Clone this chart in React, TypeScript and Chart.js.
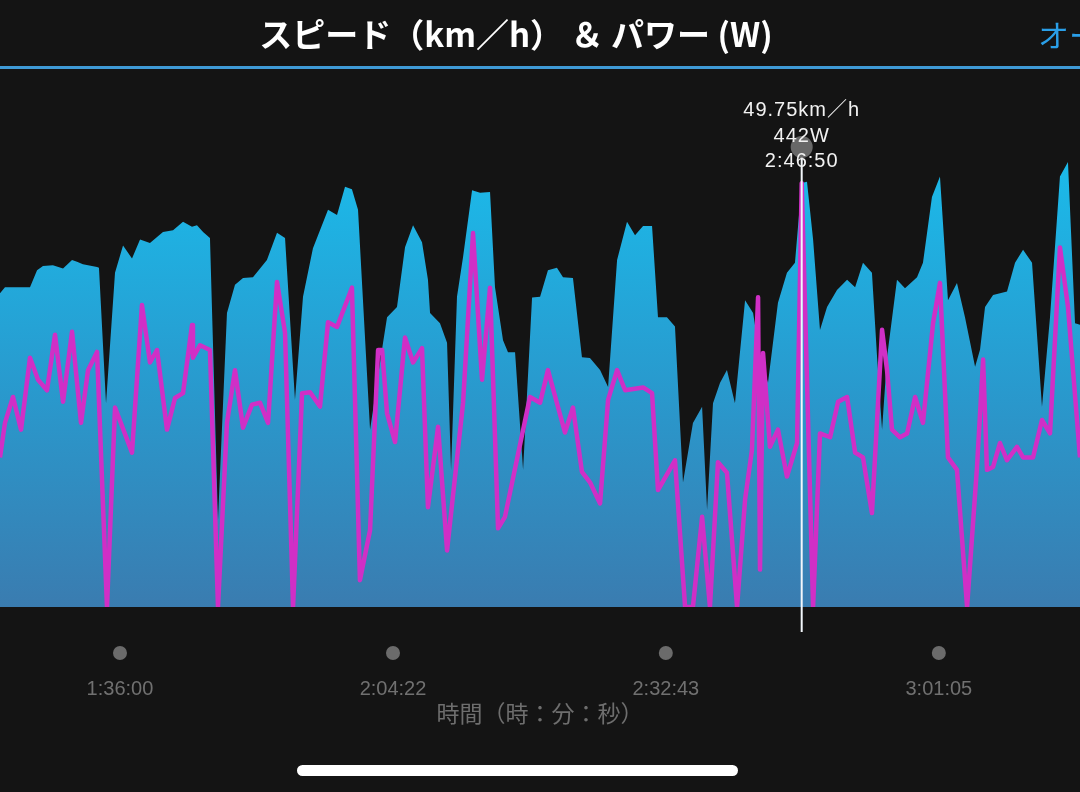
import React, { useEffect, useRef } from 'react';
import { Chart, registerables } from 'chart.js';

Chart.register(...registerables);

// ---------- data ----------
const titleText = 'スピード（km／h） ＆ パワー (W)';
const headerAction = 'オー';
const xAxisTitle = '時間（時：分：秒）';

const axisMinSec = 5012;
const axisMaxSec = 11745;
const tickSeconds = [5760, 7462, 9163, 10865];

const speedTimes = [
  5012, 5043, 5093, 5199, 5243, 5280, 5342, 5405, 5461, 5492,
  5529, 5617, 5629, 5673, 5729, 5779, 5835, 5885, 5947, 6028,
  6091, 6153, 6209, 6240, 6278, 6321, 6371, 6427, 6477, 6527,
  6589, 6676, 6739, 6789, 6851, 6901, 6963, 7057, 7113, 7163,
  7206, 7244, 7319, 7400, 7425, 7487, 7537, 7587, 7643, 7680,
  7693, 7755, 7799, 7824, 7861, 7899, 7955, 8005, 8067, 8098,
  8148, 8179, 8223, 8273, 8329, 8379, 8428, 8484, 8522, 8584,
  8640, 8690, 8753, 8803, 8859, 8921, 8971, 9021, 9077, 9114,
  9170, 9220, 9270, 9332, 9389, 9420, 9457, 9501, 9544, 9594,
  9657, 9707, 9750, 9800, 9862, 9918, 9968, 10010, 10043, 10081,
  10124, 10168, 10230, 10293, 10343, 10392, 10448, 10480, 10511, 10542,
  10604, 10654, 10729, 10766, 10822, 10872, 10922, 10978, 11028, 11091,
  11122, 11153, 11203, 11290, 11340, 11390, 11446, 11508, 11558, 11620,
  11670, 11714, 11745,
];
const speedKmh = [
  36.8, 37.5, 37.5, 37.5, 39.5, 40.0, 40.1, 39.7, 40.7, 40.5,
  40.2, 39.9, 39.8, 23.9, 39.2, 42.4, 40.9, 43.1, 42.7, 44.0,
  44.2, 45.2, 44.6, 44.8, 44.0, 43.3, 10.2, 34.5, 37.8, 38.6,
  38.7, 40.7, 43.9, 43.3, 24.3, 36.4, 42.1, 46.6, 46.0, 49.3,
  49.0, 46.6, 20.8, 31.0, 34.0, 35.2, 42.2, 44.8, 42.8, 38.4,
  34.5, 33.3, 31.0, 16.1, 36.4, 41.1, 48.9, 48.6, 48.7, 37.5,
  31.3, 29.9, 29.9, 16.1, 36.3, 36.4, 39.5, 39.8, 38.7, 38.6,
  29.3, 29.2, 27.8, 25.8, 40.7, 45.2, 43.6, 44.7, 44.7, 34.0,
  34.0, 32.9, 14.6, 21.6, 23.5, 11.4, 23.9, 26.3, 27.8, 23.9,
  36.0, 34.5, 29.3, 26.3, 35.7, 39.2, 40.4, 49.75, 49.9, 43.1,
  32.5, 35.2, 37.2, 38.4, 37.5, 40.4, 39.2, 29.3, 20.8, 29.3,
  38.4, 37.4, 38.7, 40.4, 48.1, 50.5, 36.0, 38.0, 34.0, 28.2,
  30.2, 35.2, 36.6, 37.0, 40.4, 41.9, 40.4, 23.5, 34.0, 50.5,
  52.2, 33.3, 33.1,
];

const powerTimes = [
  5012, 5043, 5093, 5143, 5199, 5249, 5305, 5355, 5405, 5461,
  5517, 5561, 5617, 5679, 5729, 5835, 5897, 5947, 5991, 6053,
  6103, 6153, 6209, 6215, 6259, 6321, 6371, 6427, 6477, 6527,
  6583, 6633, 6683, 6739, 6789, 6839, 6895, 6945, 7007, 7057,
  7113, 7206, 7256, 7319, 7369, 7394, 7425, 7475, 7537, 7587,
  7643, 7680, 7743, 7799, 7899, 7961, 8017, 8067, 8117, 8160,
  8316, 8379, 8428, 8534, 8584, 8640, 8690, 8753, 8803, 8859,
  8909, 9021, 9077, 9114, 9220, 9283, 9332, 9389, 9438, 9488,
  9544, 9607, 9657, 9700, 9738, 9750, 9769, 9812, 9862, 9918,
  9981, 10010, 10081, 10124, 10187, 10237, 10293, 10343, 10392, 10448,
  10511, 10542, 10573, 10623, 10667, 10717, 10766, 10829, 10872, 10922,
  10978, 11041, 11103, 11141, 11165, 11203, 11246, 11290, 11352, 11390,
  11452, 11508, 11558, 11620, 11670, 11745,
];
const powerW = [
  156, 192, 219, 185, 260, 237, 226, 284, 214, 287,
  192, 247, 266, 0, 208, 161, 315, 255, 268, 185,
  218, 223, 294, 260, 273, 268, 0, 192, 247, 187,
  211, 213, 192, 339, 286, 0, 223, 224, 209, 297,
  292, 333, 28, 80, 268, 268, 202, 172, 281, 255,
  270, 104, 188, 59, 213, 390, 237, 333, 82, 94,
  219, 213, 247, 182, 208, 141, 130, 108, 216, 247,
  226, 229, 223, 122, 153, 0, 0, 94, 0, 151,
  140, 0, 112, 164, 323, 39, 265, 167, 185, 136,
  171, 442, 0, 181, 177, 214, 219, 161, 156, 98,
  289, 247, 185, 177, 181, 219, 192, 296, 338, 156,
  143, 0, 146, 258, 143, 146, 171, 153, 167, 156,
  156, 195, 181, 375, 313, 156,
];

const cursorSec = 10010;
const cursorLabels = ['49.75km／h', '442W', '2:46:50'];

const speedMax = 63;
const powerMax = 560;

// ---------- helpers ----------
function fmtTime(s: number): string {
  const h = Math.floor(s / 3600);
  const m = Math.floor((s % 3600) / 60);
  const sec = Math.round(s % 60);
  return `${h}:${String(m).padStart(2, '0')}:${String(sec).padStart(2, '0')}`;
}

const BG = '#141414';

const overlayPlugin = {
  id: 'overlayPlugin',
  afterDatasetsDraw(chart: any) {
    const { ctx, scales, chartArea } = chart;
    const x = scales.x.getPixelForValue(cursorSec);
    ctx.save();
    ctx.strokeStyle = '#f3f7fb';
    ctx.lineWidth = 2;
    ctx.beginPath();
    ctx.moveTo(x, 157);
    ctx.lineTo(x, chartArea.bottom + 25);
    ctx.stroke();
    ctx.fillStyle = 'rgba(125,125,125,0.8)';
    ctx.beginPath();
    ctx.arc(x, 147, 11, 0, Math.PI * 2);
    ctx.fill();
    ctx.fillStyle = '#f2f2f2';
    ctx.textAlign = 'center';
    ctx.textBaseline = 'middle';
    ctx.font = '20px "Liberation Sans", "Noto Sans CJK JP", sans-serif';
    try { (ctx as any).letterSpacing = '1px'; } catch (e) { /* ignore */ }
    const ys = [110, 136, 161];
    cursorLabels.forEach((t, i) => ctx.fillText(t, x, ys[i]));
    ctx.restore();
  },
  afterDraw(chart: any) {
    const { ctx, scales, chartArea } = chart;
    ctx.save();
    ctx.fillStyle = '#6b6b6b';
    scales.x.ticks.forEach((t: any) => {
      const px = scales.x.getPixelForValue(t.value);
      ctx.beginPath();
      ctx.arc(px, chartArea.bottom + 46, 7, 0, Math.PI * 2);
      ctx.fill();
    });
    ctx.restore();
  },
};

export default function App() {
  const canvasRef = useRef<HTMLCanvasElement | null>(null);

  useEffect(() => {
    document.body.style.margin = '0';
    document.body.style.background = BG;
    const canvas = canvasRef.current;
    if (!canvas) return;

    const speedPoints = speedTimes.map((t, i) => ({ x: t, y: speedKmh[i] }));
    const powerPoints = powerTimes.map((t, i) => ({ x: t, y: powerW[i] }));

    const chart = new Chart(canvas, {
      type: 'line',
      data: {
        datasets: [
          {
            label: 'パワー (W)',
            data: powerPoints,
            yAxisID: 'y1',
            borderColor: '#d02fc6',
            borderWidth: 4.5,
            borderJoinStyle: 'round',
            pointRadius: 0,
            tension: 0,
            fill: false,
            order: 1,
          },
          {
            label: 'スピード (km/h)',
            data: speedPoints,
            yAxisID: 'y',
            borderWidth: 0,
            borderColor: 'rgba(0,0,0,0)',
            pointRadius: 0,
            tension: 0,
            fill: 'origin',
            order: 2,
            backgroundColor: (c: any) => {
              const { chart: ch } = c;
              const area = ch.chartArea;
              if (!area) return '#22a8dc';
              const g = ch.ctx.createLinearGradient(0, area.top, 0, area.bottom);
              g.addColorStop(0, '#14c6f4');
              g.addColorStop(0.2, '#1cb8e8');
              g.addColorStop(0.6, '#2999cd');
              g.addColorStop(1, '#3a7cb0');
              return g;
            },
          },
        ],
      },
      options: {
        responsive: true,
        maintainAspectRatio: false,
        animation: false,
        events: [],
        layout: { padding: { top: 70, left: 0, right: 0, bottom: 0 } },
        plugins: {
          legend: { display: false },
          tooltip: { enabled: false },
          title: { display: false },
        },
        scales: {
          x: {
            type: 'linear',
            min: axisMinSec,
            max: axisMaxSec,
            grid: { display: false },
            border: { display: false },
            afterBuildTicks: (scale: any) => {
              scale.ticks = tickSeconds.map((v) => ({ value: v }));
            },
            afterFit: (scale: any) => {
              scale.height = 185;
            },
            ticks: {
              autoSkip: false,
              maxRotation: 0,
              padding: 62,
              color: '#707070',
              font: { family: '"Liberation Sans", sans-serif', size: 20 },
              callback: (v: any) => fmtTime(Number(v)),
            },
            title: {
              display: true,
              text: xAxisTitle,
              color: '#6e6e6e',
              font: { family: '"Noto Sans CJK JP", sans-serif', size: 23 },
              padding: { top: 0, bottom: 65 },
            },
          },
          y: { display: false, min: 0, max: speedMax },
          y1: { display: false, min: 0, max: powerMax },
        },
      },
      plugins: [overlayPlugin],
    });
    return () => chart.destroy();
  }, []);

  return (
    <div style={{ position: 'fixed', left: 0, top: 0, width: 1080, height: 792, background: BG, overflow: 'hidden' }}>
      <div style={{ position: 'absolute', left: 0, top: 0, width: 1080, height: 792 }}>
        <canvas ref={canvasRef} />
      </div>
      <div
        style={{
          position: 'absolute', left: 0, top: 0, width: 1032, height: 66,
          display: 'flex', alignItems: 'center', justifyContent: 'center',
          color: '#ffffff', fontFamily: '"Noto Sans CJK JP", sans-serif', fontWeight: 700, fontSize: 33,
          whiteSpace: 'nowrap',
        }}
      >
        {titleText}
      </div>
      <div
        style={{
          position: 'absolute', left: 1038, top: 0, height: 66, display: 'flex', alignItems: 'center',
          color: '#2a9fe8', fontFamily: '"Noto Sans CJK JP", sans-serif', fontSize: 31, whiteSpace: 'nowrap',
        }}
      >
        {headerAction}
      </div>
      <div style={{ position: 'absolute', left: 0, top: 66, width: 1080, height: 3, background: '#3f9ad6' }} />
      <div style={{ position: 'absolute', left: 297, top: 765, width: 441, height: 11, borderRadius: 6, background: '#ffffff' }} />
    </div>
  );
}
